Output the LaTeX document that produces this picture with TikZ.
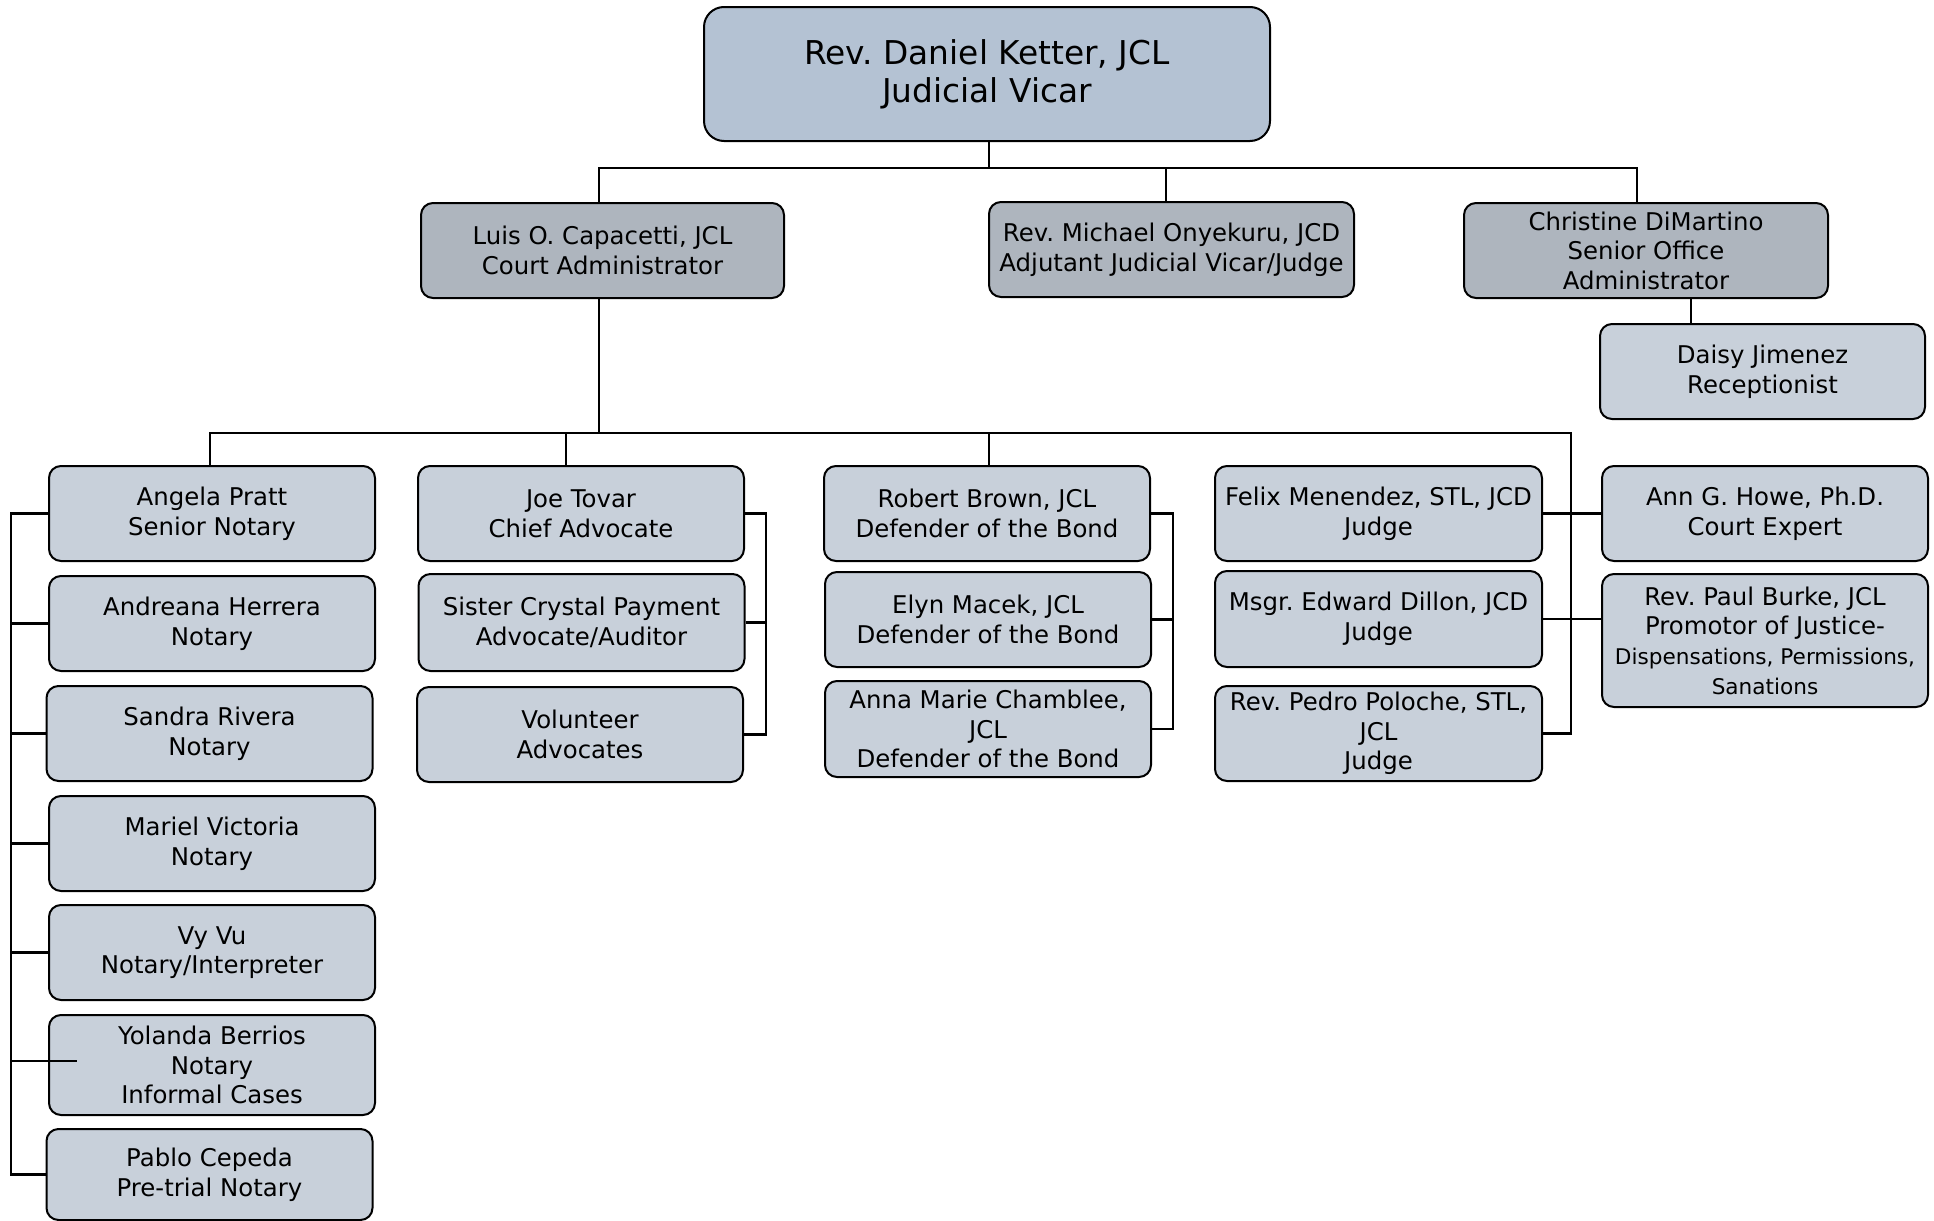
\documentclass[tikz,border=0pt]{standalone}
\usepackage{fontspec}
\setmainfont{DejaVu Sans}
\frenchspacing
\definecolor{topfill}{HTML}{B4C2D3}
\definecolor{midfill}{HTML}{AEB5BE}
\definecolor{lowfill}{HTML}{C8D0DA}
\tikzset{
  base/.style={draw=black, line width=1pt, rounded corners=6pt, align=center, inner sep=1pt,
    minimum width=163pt, minimum height=47.5pt, font=\fontsize{12.2}{14.8}\selectfont},
  topbox/.style={base, fill=topfill, rounded corners=10pt, minimum width=283pt, minimum height=67pt,
    font=\fontsize{16.4}{19}\selectfont},
  midbox/.style={base, fill=midfill},
  lowbox/.style={base, fill=lowfill},
  conn/.style={draw=black, line width=1.3pt},
}
\begin{document}
\begin{tikzpicture}[x=0.5pt, y=-0.5pt]
\useasboundingbox (0,0) rectangle (1934,1221);

% top
\node[topbox] (top) at (987,74) {Rev. Daniel Ketter, JCL\\Judicial Vicar};

% level 2
\node[midbox, minimum width=181.5pt] (cap) at (602.5,250.5) {Luis O. Capacetti, JCL\\Court Administrator};
\node[midbox, minimum width=182.5pt] (ony) at (1171.5,249.5) {Rev. Michael Onyekuru, JCD\\Adjutant Judicial Vicar/Judge};
\node[midbox, minimum width=182pt] (dim) at (1646,250.5) {Christine DiMartino\\Senior Office\\Administrator};
\node[lowbox, minimum width=162.5pt] (dai) at (1762.5,371.5) {Daisy Jimenez\\Receptionist};

% notaries
\node[lowbox] (ang) at (212,513.5) {Angela Pratt\\Senior Notary};
\node[lowbox] (and) at (212,623.5) {Andreana Herrera\\Notary};
\node[lowbox] (san) at (209.5,733.5) {Sandra Rivera\\Notary};
\node[lowbox] (mar) at (212,843.5) {Mariel Victoria\\Notary};
\node[lowbox] (vyv) at (212,952.5) {Vy Vu\\Notary/Interpreter};
\node[lowbox, minimum height=50pt] (yol) at (212,1065) {Yolanda Berrios\\Notary\\Informal Cases};
\node[lowbox, minimum height=45.5pt] (pab) at (209.5,1174.5) {Pablo Cepeda\\Pre-trial Notary};

% advocates
\node[lowbox] (joe) at (581,513.5) {Joe Tovar\\Chief Advocate};
\node[lowbox, minimum height=48.5pt] (sis) at (581.5,622.5) {Sister Crystal Payment\\Advocate/Auditor};
\node[lowbox] (vol) at (580,734.5) {Volunteer\\Advocates};

% defenders
\node[lowbox] (rob) at (987,513.5) {Robert Brown, JCL\\Defender of the Bond};
\node[lowbox] (ely) at (988,619.5) {Elyn Macek, JCL\\Defender of the Bond};
\node[lowbox, minimum height=48pt] (ann) at (988,729) {Anna Marie Chamblee,\\JCL\\Defender of the Bond};

% judges
\node[lowbox, minimum width=163.5pt] (fel) at (1378.5,513.5) {Felix Menendez, STL, JCD\\Judge};
\node[lowbox, minimum width=163.5pt, minimum height=48pt] (dil) at (1378.5,619) {Msgr. Edward Dillon, JCD\\Judge};
\node[lowbox, minimum width=163.5pt] (pol) at (1378.5,733.5) {Rev. Pedro Poloche, STL,\\JCL\\Judge};

% right column
\node[lowbox] (how) at (1765,513.5) {Ann G. Howe, Ph.D.\\Court Expert};
\node[lowbox, minimum height=66.5pt] (bur) at (1765,640.5) {Rev. Paul Burke, JCL\\Promotor of Justice-\\{\fontsize{10.8}{13.8}\selectfont Dispensations, Permissions,}\\{\fontsize{10.8}{13.8}\selectfont Sanations}};

% helper x positions
\coordinate (x599) at (599,0);
\coordinate (x1166) at (1166,0);
\coordinate (x1637) at (1637,0);
\coordinate (x1691) at (1691,0);
\coordinate (x210) at (210,0);
\coordinate (x566) at (566,0);
\coordinate (x989) at (989,0);

% connectors level 1
\coordinate (j1) at (989,168);
\draw[conn] (top.south -| j1) -- (j1);
\draw[conn] (cap.north -| x599) |- (j1) -| (dim.north -| x1637);
\draw[conn] (ony.north -| x1166) -- (j1 -| x1166);
\draw[conn] (dim.south -| x1691) -- (dai.north -| x1691);

% connectors level 2
\coordinate (j2) at (599,433);
\coordinate (jb) at (1571,433);
\draw[conn] (cap.south -| j2) -- (j2);
\draw[conn] (ang.north -| x210) |- (j2) -- (jb) |- (pol.east);
\draw[conn] (joe.north -| x566) -- (j2 -| x566);
\draw[conn] (rob.north -| x989) -- (j2 -| x989);

% notaries bracket
\coordinate (lx) at (11,0);
\draw[conn] (ang.west) -- (ang.west -| lx) -- (pab.west -| lx) -- (pab.west);
\draw[conn] (and.west -| lx) -- (and.west);
\draw[conn] (san.west -| lx) -- (san.west);
\draw[conn] (mar.west -| lx) -- (mar.west);
\draw[conn] (vyv.west -| lx) -- (vyv.west);
\coordinate (yend) at (77,1061);
\draw[conn] (yend -| lx) -- (yend);

% advocates bracket
\coordinate (ax) at (766,0);
\draw[conn] (joe.east) -- (joe.east -| ax) -- (vol.east -| ax) -- (vol.east);
\draw[conn] (sis.east) -- (sis.east -| ax);

% defenders bracket
\coordinate (dx) at (1173,0);
\draw[conn] (rob.east) -- (rob.east -| dx) -- (ann.east -| dx) -- (ann.east);
\draw[conn] (ely.east) -- (ely.east -| dx);

% judges / right column
\draw[conn] (fel.east) -- (how.west);
\draw[conn] (dil.east) -- (dil.east -| bur.west);
\end{tikzpicture}
\end{document}
